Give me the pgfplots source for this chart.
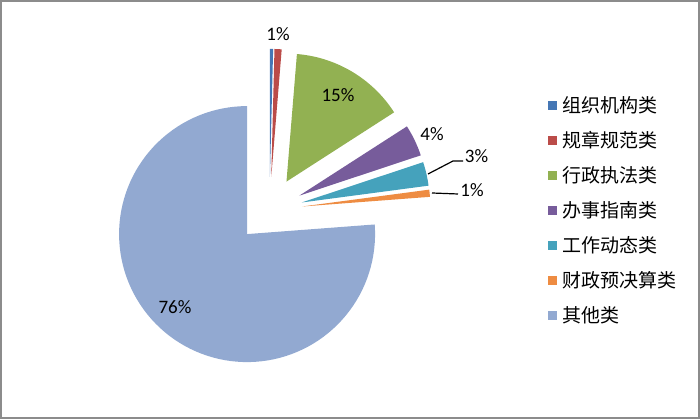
\documentclass[border=0pt]{standalone}
\usepackage{fontspec}
\setmainfont{Carlito}
\newfontfamily\cjk{Noto Sans CJK SC}
\usepackage{pgfplots}
\pgfplotsset{compat=1.18}
\definecolor{c1}{HTML}{4577B5}
\definecolor{c2}{HTML}{BB4C49}
\definecolor{c3}{HTML}{92B152}
\definecolor{c4}{HTML}{775C9B}
\definecolor{c5}{HTML}{45A2BC}
\definecolor{c6}{HTML}{EE8C42}
\definecolor{c7}{HTML}{92A9D1}
\definecolor{framecol}{HTML}{8C8C8C}
% pie geometry (picture units = pixels of the reference)
\def\cx{269.5}\def\cy{209.1}\def\R{128}\def\D{33}
% #1 start (percent, cumulative), #2 end (percent, cumulative), #3 colour
\newcommand\pieslice[3]{%
  \addplot[fill=#3, draw=none] (
    {\cx + \D*cos(90-1.8*(#1+#2)) + \R*(x>=0)*cos(90-3.6*(#1+(#2-#1)*x/100))},
    {\cy + \D*sin(90-1.8*(#1+#2)) + \R*(x>=0)*sin(90-3.6*(#1+(#2-#1)*x/100))});
}
\newcommand\pct{\fontsize{19}{19}\selectfont}
\begin{document}
\begin{tikzpicture}
\begin{axis}[
  width=700pt, height=419pt, scale only axis,
  xmin=0, xmax=700, ymin=0, ymax=419,
  hide axis, clip=false,
  samples at={-1,0,1,...,100},
  legend cell align=left,
  legend image code/.code={\fill[#1] (0pt,-4.5pt) rectangle (9pt,4.5pt);},
  legend style={at={(axis cs:548,323)}, anchor=north west, draw=none, fill=none,
    inner sep=0pt, row sep=16pt,
    font=\cjk\fontsize{19}{19}\selectfont,
    nodes={inner sep=0pt, text height=16.5pt, text depth=2.5pt},
    /tikz/every odd column/.append style={column sep=5pt}},
]
% values: 0.4, 0.9, 14.6, 4.0, 3.0, 0.9, 76.2 (percent)
\pieslice{0}{0.4}{c1}      \addlegendentry{组织机构类}
\pieslice{0.4}{1.3}{c2}    \addlegendentry{规章规范类}
\pieslice{1.3}{15.9}{c3}   \addlegendentry{行政执法类}
\pieslice{15.9}{19.9}{c4}  \addlegendentry{办事指南类}
\pieslice{19.9}{22.9}{c5}  \addlegendentry{工作动态类}
\pieslice{22.9}{23.8}{c6}  \addlegendentry{财政预决算类}
\pieslice{23.8}{100}{c7}   \addlegendentry{其他类}
% leader lines
\addplot[black, line width=1.2pt, forget plot] coordinates {(428,245) (453,258) (463,258)};
\addplot[black, line width=1.2pt, forget plot] coordinates {(432,226) (458,225)};
% data labels
\node[font=\pct] at (axis cs:278,385) {1\%};
\node[font=\pct] at (axis cs:338,324) {15\%};
\node[font=\pct] at (axis cs:432,284.5) {4\%};
\node[font=\pct] at (axis cs:476.5,263) {3\%};
\node[font=\pct] at (axis cs:472,229) {1\%};
\node[font=\pct] at (axis cs:175,112) {76\%};
\draw[line width=2pt, framecol] (axis cs:1,1) rectangle (axis cs:699,418);
\end{axis}
\end{tikzpicture}
\end{document}
